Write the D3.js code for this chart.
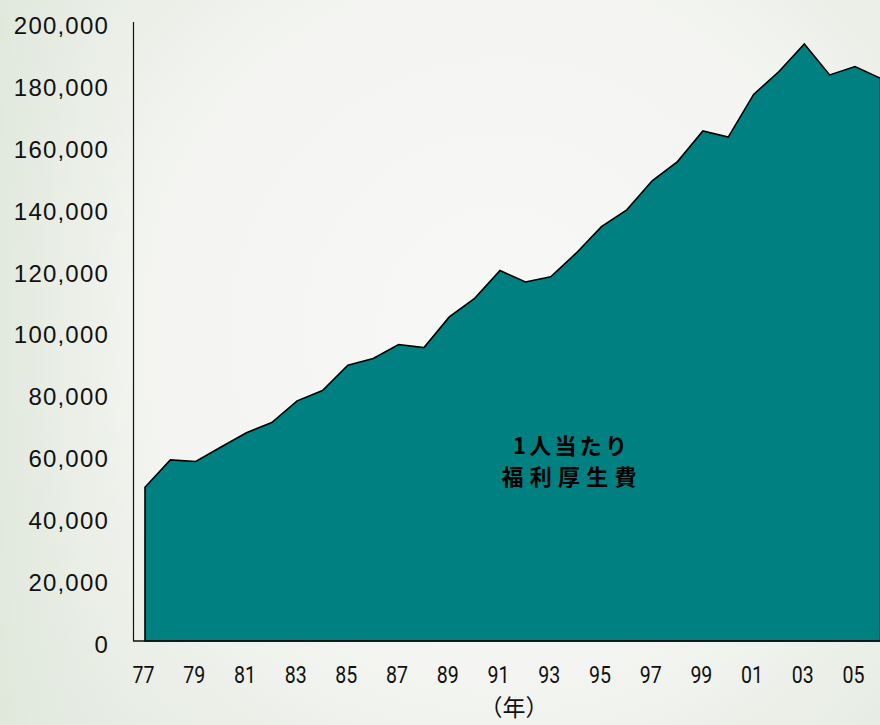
<!DOCTYPE html>
<html>
<head>
<meta charset="utf-8">
<script src="https://cdn.jsdelivr.net/npm/d3@7"></script>
<style>
  html, body { margin: 0; padding: 0; overflow: hidden; }
  svg { display: block; }
</style>
</head>
<body>
<script>
// ---- data ----
const years = ["77","78","79","80","81","82","83","84","85","86","87","88","89","90","91",
               "92","93","94","95","96","97","98","99","00","01","02","03","04","05","06"];
const values = [49700, 58500, 58000, 62700, 67300, 70600, 77600, 80900, 89100, 91300,
                95800, 94800, 104700, 110700, 119700, 116000, 117700, 125300, 133900, 139300,
                148700, 154900, 164800, 162800, 176600, 184000, 192900, 182900, 185600, 181800];
const xTickLabels = ["77","79","81","83","85","87","89","91","93","95","97","99","01","03","05"];
const yTicks = [0, 20000, 40000, 60000, 80000, 100000, 120000, 140000, 160000, 180000, 200000];
const seriesLabel = ["1人当たり", "福利厚生費"];
const xAxisTitle = "（年）";

const W = 880, H = 725;
const svg = d3.select("body").append("svg").attr("width", W).attr("height", H);

// background
const defs = svg.append("defs");
const rg = defs.append("radialGradient").attr("id", "bg")
  .attr("gradientUnits", "userSpaceOnUse").attr("cx", 500).attr("cy", 330).attr("r", 620);
rg.append("stop").attr("offset", "0%").attr("stop-color", "#f8f8f6");
rg.append("stop").attr("offset", "55%").attr("stop-color", "#f4f5f2");
rg.append("stop").attr("offset", "100%").attr("stop-color", "#e2e9de");
svg.append("rect").attr("width", W).attr("height", H).attr("fill", "url(#bg)");
const lg = defs.append("linearGradient").attr("id", "bgl").attr("x1", 0).attr("x2", 1).attr("y1", 0).attr("y2", 0);
lg.append("stop").attr("offset", "0%").attr("stop-color", "#dfe7da").attr("stop-opacity", 0.7);
lg.append("stop").attr("offset", "18%").attr("stop-color", "#eef1ea").attr("stop-opacity", 0);
svg.append("rect").attr("width", W).attr("height", H).attr("fill", "url(#bgl)");

// scales
const x = d3.scalePoint().domain(years).range([145, 880.4]);
const y = d3.scaleLinear().domain([0, 200000]).range([641, 22]);

const data = years.map((yr, i) => ({ yr, v: values[i] }));

// area
const area = d3.area().x(d => x(d.yr)).y0(y(0)).y1(d => y(d.v));
svg.append("path").datum(data)
  .attr("d", area)
  .attr("fill", "#008080")
  .attr("stroke", "#000")
  .attr("stroke-width", 1.6)
  .attr("stroke-linejoin", "miter");

// axes lines
svg.append("line").attr("x1", 133.5).attr("x2", 133.5).attr("y1", y(200000)).attr("y2", y(0))
  .attr("stroke", "#111").attr("stroke-width", 1.2);
svg.append("line").attr("x1", 133).attr("x2", W).attr("y1", y(0)).attr("y2", y(0))
  .attr("stroke", "#111").attr("stroke-width", 1.4);

// y tick labels
const fmt = d3.format(",");
svg.append("g").selectAll("text").data(yTicks).join("text")
  .attr("x", 109)
  .attr("y", d => y(d) + 3.5)
  .attr("dy", "0.35em")
  .attr("text-anchor", "end")
  .attr("font-family", "'Liberation Sans', Arial, sans-serif")
  .attr("font-size", 24)
  .attr("letter-spacing", "1.2px")
  .attr("fill", "#111")
  .text(d => fmt(d));

// x tick labels
svg.append("g").selectAll("text").data(xTickLabels).join("text")
  .attr("x", d => x(d) - 1.5)
  .attr("y", 683)
  .attr("text-anchor", "middle")
  .attr("font-family", "Roboto, 'Liberation Sans', sans-serif")
  .attr("font-size", 23)
  .attr("textLength", 22)
  .attr("lengthAdjust", "spacingAndGlyphs")
  .attr("fill", "#111")
  .text(d => d);

// x axis title
svg.append("text")
  .attr("x", 514).attr("y", 716)
  .attr("text-anchor", "middle")
  .attr("font-family", "'Noto Sans CJK JP', sans-serif")
  .attr("font-size", 23)
  .attr("fill", "#111")
  .text(xAxisTitle);

// series label inside area
const lblY = [454, 485];
const lblX = [570, 569];
const lblLen = [114, 135];
svg.append("g").selectAll("text").data(seriesLabel).join("text")
  .attr("x", (d, i) => lblX[i])
  .attr("y", (d, i) => lblY[i])
  .attr("text-anchor", "middle")
  .attr("font-family", "'Noto Sans CJK JP', sans-serif")
  .attr("font-weight", "bold")
  .attr("font-size", 22)
  .attr("textLength", (d, i) => lblLen[i])
  .attr("lengthAdjust", "spacing")
  .attr("fill", "#000")
  .text(d => d);
</script>
</body>
</html>
